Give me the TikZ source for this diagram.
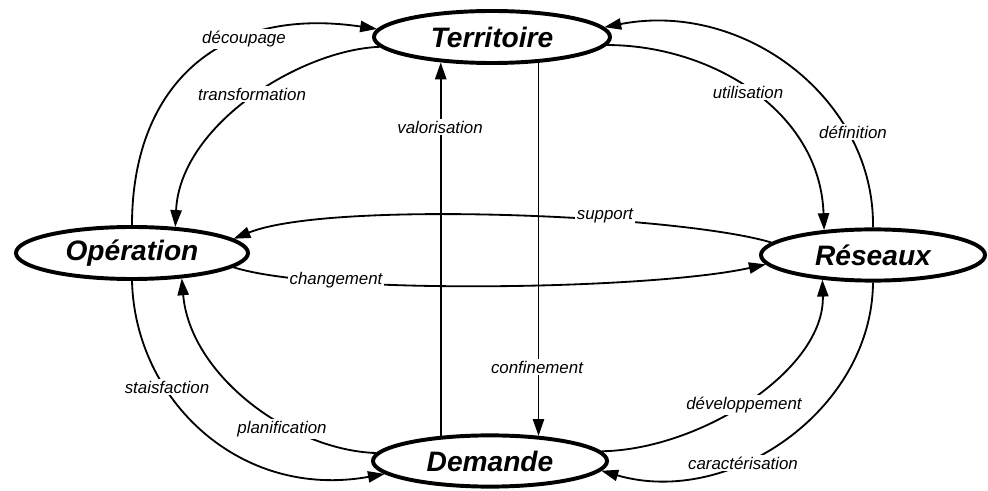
\documentclass[tikz,border=0pt]{standalone}
\usepackage{fontspec}
\setmainfont{Liberation Sans}
\usetikzlibrary{shapes.geometric,arrows.meta}
\begin{document}
\begin{tikzpicture}[x=0.025cm,y=-0.025cm,
  place/.style={ellipse,draw,line width=2.8pt,inner sep=0pt,
    font=\fontsize{20}{22}\selectfont\bfseries\itshape},
  link/.style={line width=1.3pt,-{Triangle[length=12pt,width=8pt]}},
  tag/.style={fill=white,inner sep=1.2pt,
    font=\fontsize{12}{14}\selectfont\itshape}]
\useasboundingbox (0,0) rectangle (988,491);

% the four poles
\node[place,minimum width=5.9cm,minimum height=1.3cm]  (T) at (492,37)  {Territoire};
\node[place,minimum width=5.8cm,minimum height=1.3cm]  (O) at (132,253) {Opération};
\node[place,minimum width=5.6cm,minimum height=1.28cm] (R) at (873,255) {Réseaux};
\node[place,minimum width=5.85cm,minimum height=1.28cm](D) at (490,461) {Demande};

% upper left
\draw[link] (O.90)  .. controls (132,90)  and (215,5)   .. (T.176);
\draw[link] (T.185) .. controls (300,50)  and (180,125) .. (O.31);
% upper right
\draw[link] (T.-4)  .. controls (710,45)  and (820,110) .. (R.153);
\draw[link] (R.90)  .. controls (875,100) and (745,0)   .. (T.5);
% lower left
\draw[link] (O.270) .. controls (135,400) and (240,500) .. (D.187);
\draw[link] (D.176) .. controls (290,450) and (190,375) .. (O.-27.5);
% lower right
\draw[link] (D.5)   .. controls (700,450) and (825,370) .. (R.206);
\draw[link] (R.270) .. controls (872,410) and (730,508) .. (D.-5);
% vertical pair
\draw[link] (D.153) -- (D.153 |- T.207);
\draw[link] (T.-29) -- (T.-29 |- D.27);
% horizontal pair
\draw[link] (R.173) .. controls (680,215) and (330,200) .. (O.8);
\draw[link] (O.-8)  .. controls (320,295) and (650,290) .. (R.185);

% labels
\node[tag] (la) at (244,39)  {découpage};
\node[tag] (lb) at (252,94)  {transformation};
\node[tag] (lc) at (748,92)  {utilisation};
\node[tag] (ld) at (853,132) {définition};
\node[tag] (le) at (440,127) {valorisation};
\node[tag] (lf) at (537,367) {confinement};
\node[tag] (lg) at (605,216) {support};
\node[tag] (lh) at (336,280) {changement};
\node[tag] (li) at (167,387) {staisfaction};
\node[tag] (lj) at (282,429) {planification};
\node[tag] (lk) at (744,405) {développement};
\node[tag] (ll) at (743,463) {caractérisation};
\end{tikzpicture}
\end{document}
